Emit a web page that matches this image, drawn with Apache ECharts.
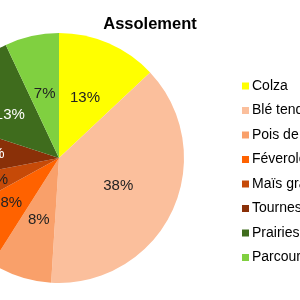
<!DOCTYPE html>
<html><head><meta charset="utf-8">
<script src="https://cdn.jsdelivr.net/npm/echarts@6/dist/echarts.min.js"></script>
<style>html,body{margin:0;padding:0;background:#fff}#c{width:300px;height:300px}</style>
</head><body><div id="c"></div>
<script>
const categories = ['Colza','Blé tendre','Pois de printemps','Féverole','Maïs grain','Tournesol','Prairies','Parcours'];
const values = [13,38,8,8,5,8,13,7];
const colors = ['#FFFF00','#FBBF9C','#F9A06A','#FF6200','#C64A08','#8A3008','#3F6C1D','#80D040'];
const labelColors = ['#222','#222','#222','#222','#222','#fff','#fff','#222'];
const chart = echarts.init(document.getElementById('c'));
chart.setOption({
  animation:false,
  title:{text:'Assolement',left:'center',top:11,textStyle:{fontFamily:'Liberation Sans',fontSize:16.5,fontWeight:'bold',color:'#000'}},
  legend:{orient:'vertical',left:237,top:74,itemWidth:7,itemHeight:7,itemGap:10.5,icon:'rect',
    textStyle:{fontFamily:'Liberation Sans',fontSize:14,lineHeight:14,color:'#000',padding:[0,0,0,-2]},data:categories},
  series:[{type:'pie',center:[59,158],radius:125,startAngle:90,clockwise:true,
    label:{position:'inside',fontFamily:'Liberation Sans',fontSize:15,formatter:p=>Math.round(p.percent)+'%'},
    labelLine:{show:false},
    data:categories.map((n,i)=>({name:n,value:values[i],itemStyle:{color:colors[i]},label:{color:labelColors[i]}}))
  }]
});
</script></body></html>
